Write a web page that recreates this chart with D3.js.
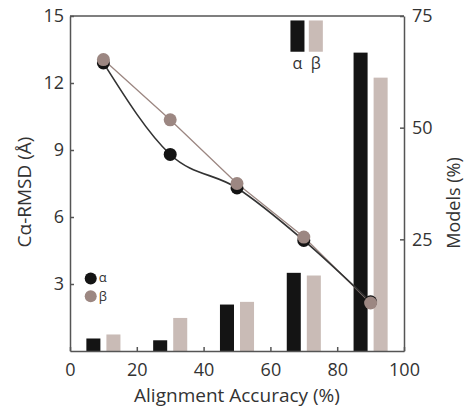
<html>
<head>
  <script src="https://d3js.org/d3.v7.min.js"></script>
  <style>
    body { margin: 0; background: #fff; }
    text { font-family: "Open Sans", sans-serif; fill: #333; }
    .axis .domain { stroke: #555; stroke-width: 1.5; }
    .axis line { stroke: #555; stroke-width: 1.5; }
    .axis text { font-size: 18px; fill: #333; }
  </style>
</head>
<body>
  <svg id="chart" width="464" height="413"></svg>
  <script>
    // bins on the x axis
    const accuracy = [10, 30, 50, 70, 90];
    // RMSD (left axis)
    const rmsdAlpha = [12.9, 8.8, 7.3, 4.95, 2.2];
    const rmsdBeta = [13.05, 10.35, 7.5, 5.1, 2.15];
    // Models % (right axis)
    const modelsAlpha = [2.8, 2.4, 10.4, 17.5, 66.8];
    const modelsBeta = [3.7, 7.4, 11.0, 16.9, 61.2];

    const xTicks = [0, 20, 40, 60, 80, 100];
    const leftTicks = [3, 6, 9, 12, 15];
    const rightTicks = [25, 50, 75];

    const svg = d3.select('svg#chart');
    const margins = { top: 16, right: 60, bottom: 62, left: 70 };
    const width = +svg.attr('width');
    const height = +svg.attr('height');
    const chartWidth = width - margins.left - margins.right;   // 334
    const chartHeight = height - margins.top - margins.bottom; // 335

    const chart = svg.append('g')
      .attr('transform', `translate(${margins.left},${margins.top})`);

    const x = d3.scaleLinear().domain([0, 100]).range([0, chartWidth]);
    const yLeft = d3.scaleLinear().domain([0, 15]).range([chartHeight, 0]);
    const yRight = d3.scaleLinear().domain([0, 75]).range([chartHeight, 0]);

    const blackCol = '#141414';
    const beigeCol = '#c9bbb6';
    const taupeCol = '#9c8782';

    // bars
    const barW = x(4.2) - x(0);
    accuracy.forEach((a, i) => {
      chart.append('rect')
        .attr('x', x(a - 3) - barW / 2)
        .attr('y', yRight(modelsAlpha[i]))
        .attr('width', barW)
        .attr('height', chartHeight - yRight(modelsAlpha[i]))
        .attr('fill', blackCol);
      chart.append('rect')
        .attr('x', x(a + 3) - barW / 2)
        .attr('y', yRight(modelsBeta[i]))
        .attr('width', barW)
        .attr('height', chartHeight - yRight(modelsBeta[i]))
        .attr('fill', beigeCol);
    });

    // lines
    const alphaLine = d3.line()
      .x((d, i) => x(accuracy[i]))
      .y(d => yLeft(d))
      .curve(d3.curveMonotoneX);
    const betaLine = d3.line()
      .x((d, i) => x(accuracy[i]))
      .y(d => yLeft(d));

    chart.append('path').attr('d', betaLine(rmsdBeta))
      .attr('fill', 'none').attr('stroke', taupeCol).attr('stroke-width', 1.3);
    chart.append('path').attr('d', alphaLine(rmsdAlpha))
      .attr('fill', 'none').attr('stroke', '#333').attr('stroke-width', 1.6);

    // points
    rmsdAlpha.forEach((d, i) => {
      chart.append('circle').attr('cx', x(accuracy[i])).attr('cy', yLeft(d))
        .attr('r', 6.5).attr('fill', blackCol);
    });
    rmsdBeta.forEach((d, i) => {
      chart.append('circle').attr('cx', x(accuracy[i])).attr('cy', yLeft(d))
        .attr('r', 6.5).attr('fill', taupeCol);
    });

    // top border
    chart.append('line')
      .attr('x1', 0).attr('x2', chartWidth).attr('y1', 0).attr('y2', 0)
      .attr('stroke', '#555').attr('stroke-width', 1.5);

    // axes (ticks point inward)
    const bottomAxis = d3.axisBottom(x).tickValues(xTicks).tickSize(-4).tickSizeOuter(0).tickPadding(12);
    chart.append('g').attr('class', 'axis')
      .attr('transform', `translate(0,${chartHeight})`)
      .call(bottomAxis);

    const leftAxis = d3.axisLeft(yLeft).tickValues(leftTicks).tickSize(-4).tickSizeOuter(0).tickPadding(6);
    chart.append('g').attr('class', 'axis').call(leftAxis);

    const rightAxis = d3.axisRight(yRight).tickValues(rightTicks).tickSize(-4).tickSizeOuter(0).tickPadding(8);
    chart.append('g').attr('class', 'axis')
      .attr('transform', `translate(${chartWidth},0)`)
      .call(rightAxis);

    // axis titles
    svg.append('text')
      .attr('x', 237).attr('y', 402)
      .attr('text-anchor', 'middle').attr('font-size', 19)
      .text('Alignment Accuracy (%)');
    svg.append('text')
      .attr('transform', `translate(31,192) rotate(-90)`)
      .attr('text-anchor', 'middle').attr('font-size', 19)
      .text('Cα-RMSD (Å)');
    svg.append('text')
      .attr('transform', `translate(460,203) rotate(-90)`)
      .attr('text-anchor', 'middle').attr('font-size', 18)
      .text('Models (%)');

    // bar legend
    const lg = chart.append('g');
    lg.append('rect').attr('x', x(66)).attr('y', yRight(74)).attr('width', barW)
      .attr('height', yRight(67) - yRight(74)).attr('fill', blackCol);
    lg.append('rect').attr('x', x(71.5)).attr('y', yRight(74)).attr('width', barW)
      .attr('height', yRight(67) - yRight(74)).attr('fill', beigeCol);
    lg.append('text').attr('x', x(66) + barW / 2).attr('y', 53)
      .attr('text-anchor', 'middle').attr('font-size', 16).text('α');
    lg.append('text').attr('x', x(71.5) + barW / 2).attr('y', 53)
      .attr('text-anchor', 'middle').attr('font-size', 16).text('β');

    // point legend
    const pl = chart.append('g');
    pl.append('circle').attr('cx', x(6.2)).attr('cy', yLeft(3.25)).attr('r', 6).attr('fill', blackCol);
    pl.append('circle').attr('cx', x(6.2)).attr('cy', yLeft(2.45)).attr('r', 6).attr('fill', taupeCol);
    pl.append('text').attr('x', x(8.6)).attr('y', yLeft(3.25) + 4).attr('font-size', 13).text('α');
    pl.append('text').attr('x', x(8.6)).attr('y', yLeft(2.45) + 5).attr('font-size', 13).text('β');
  </script>
</body>
</html>
